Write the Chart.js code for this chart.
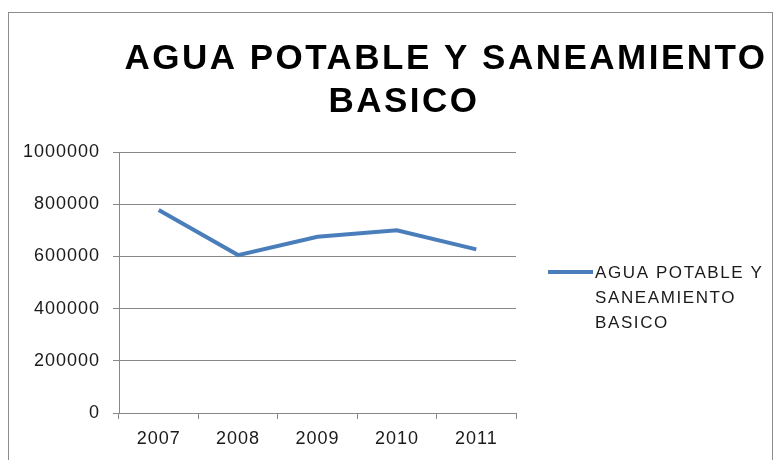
<!DOCTYPE html>
<html>
<head>
<meta charset="utf-8">
<script src="https://cdn.jsdelivr.net/npm/chart.js@4/dist/chart.umd.min.js"></script>
<style>
  html, body { margin: 0; padding: 0; background: #fff; }
  #wrap { position: relative; width: 774px; height: 460px; overflow: hidden; }
  #frame {
    position: absolute; left: 8px; top: 12px; width: 763px; height: 460px;
    border: 1px solid #8c8c8c; border-bottom: none;
  }
  #grafico { position: absolute; left: 0; top: 0; }
</style>
</head>
<body>
<div id="wrap">
  <div id="frame"></div>
  <canvas id="grafico" width="774" height="460"></canvas>
</div>
<script>
// ---- datos ----
const anios = ["2007", "2008", "2009", "2010", "2011"];
const montos = [778000, 605000, 675000, 700000, 627000];
const tituloLineas = ["AGUA POTABLE Y SANEAMIENTO", "BASICO"];
const leyendaLineas = ["AGUA POTABLE Y", "SANEAMIENTO", "BASICO"];
const yMax = 1000000;
const yPaso = 200000;

const AZUL = "#4a7ebb";
const GRIS = "#888888";
const FUENTE = "'Liberation Sans', Arial, sans-serif";

// espaciado de letras para todo el texto del canvas
const espaciado = {
  id: "espaciado",
  beforeDraw(chart) {
    chart.ctx.letterSpacing = "1px";
  }
};

// titulo en dos lineas
const titulo = {
  id: "titulo",
  afterDraw(chart) {
    const ctx = chart.ctx;
    ctx.save();
    ctx.font = "bold 35px " + FUENTE;
    ctx.letterSpacing = "2.5px";
    ctx.fillStyle = "#000";
    ctx.textAlign = "center";
    ctx.textBaseline = "alphabetic";
    ctx.fillText(tituloLineas[0], 446, 69);
    ctx.fillText(tituloLineas[1], 404, 112);
    ctx.restore();
  }
};

// leyenda a la derecha, texto partido en lineas
const leyenda = {
  id: "leyenda",
  afterDraw(chart) {
    const ctx = chart.ctx;
    const ds = chart.data.datasets[0];
    ctx.save();
    ctx.strokeStyle = ds.borderColor;
    ctx.lineWidth = ds.borderWidth;
    ctx.beginPath();
    ctx.moveTo(548, 272);
    ctx.lineTo(593, 272);
    ctx.stroke();
    ctx.font = "17px " + FUENTE;
    ctx.letterSpacing = "1.6px";
    ctx.fillStyle = "#1a1a1a";
    ctx.textAlign = "left";
    ctx.textBaseline = "middle";
    leyendaLineas.forEach((t, i) => ctx.fillText(t, 595, 273 + i * 25));
    ctx.restore();
  }
};

new Chart(document.getElementById("grafico"), {
  type: "line",
  data: {
    labels: anios,
    datasets: [
      {
        label: leyendaLineas.join(" "),
        data: montos,
        borderColor: AZUL,
        borderWidth: 4,
        pointRadius: 0,
        tension: 0,
        fill: false,
      },
    ],
  },
  options: {
    responsive: false,
    animation: false,
    layout: { padding: { top: 152, right: 258, left: 0, bottom: 0 } },
    plugins: {
      legend: { display: false },
      title: { display: false },
      tooltip: { enabled: false },
    },
    scales: {
      x: {
        type: "category",
        offset: true,
        grid: {
          offset: true,
          drawOnChartArea: false,
          drawTicks: true,
          tickLength: 6,
          color: GRIS,
        },
        border: { color: GRIS },
        ticks: {
          color: "#1a1a1a",
          font: { family: FUENTE, size: 18 },
          padding: 9,
          maxRotation: 0,
        },
        afterFit: (s) => { s.height = 47; },
      },
      y: {
        min: 0,
        max: yMax,
        grid: { color: GRIS, tickLength: 6 },
        border: { color: GRIS },
        ticks: {
          stepSize: yPaso,
          color: "#1a1a1a",
          font: { family: FUENTE, size: 18 },
          padding: 13,
          callback: (v) => String(v),
        },
        afterFit: (s) => { s.width = 119; },
      },
    },
  },
  plugins: [espaciado, titulo, leyenda],
});
</script>
</body>
</html>
